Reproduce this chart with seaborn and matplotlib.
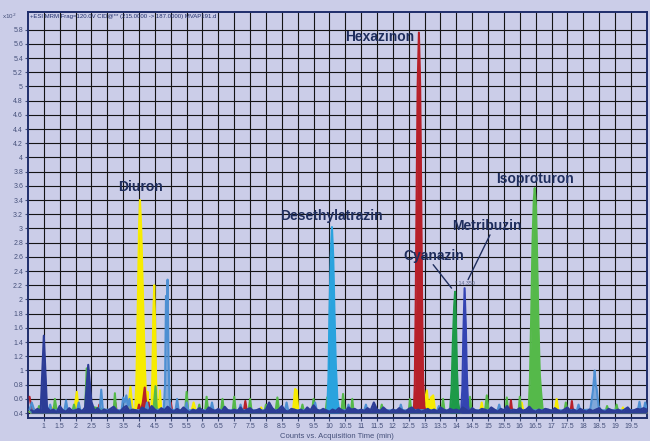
import numpy as np
import pandas as pd
import seaborn as sns
import matplotlib
matplotlib.use('Agg')
from matplotlib import pyplot as plt

# chromatogram traces: (time [min], counts [x10^2])
yellow = [(0.55, 0.42), (1.20, 0.42), (1.25, 0.48), (1.30, 0.42), (1.95, 0.42), (2.04, 0.70),
          (2.10, 0.42), (3.65, 0.42), (3.73, 0.77), (3.80, 0.45), (3.88, 0.45), (3.92, 0.90),
          (3.96, 1.90), (4.00, 3.00), (4.03, 3.40), (4.07, 3.00), (4.11, 2.30), (4.15, 1.60),
          (4.19, 1.00), (4.23, 0.55), (4.27, 0.70), (4.31, 0.45), (4.39, 0.45), (4.42, 0.90),
          (4.45, 1.80), (4.48, 2.20), (4.51, 1.60), (4.54, 0.85), (4.57, 0.45), (4.62, 0.45),
          (4.66, 0.72), (4.70, 0.44), (5.65, 0.42), (5.72, 0.55), (5.80, 0.42), (7.80, 0.42),
          (7.85, 0.48), (7.90, 0.42), (8.85, 0.42), (8.92, 0.74), (8.97, 0.72), (9.02, 0.42),
          (12.97, 0.42), (13.02, 0.60), (13.07, 0.72), (13.12, 0.50), (13.20, 0.62), (13.27, 0.65),
          (13.33, 0.44), (14.75, 0.42), (14.80, 0.55), (14.85, 0.42), (16.00, 0.42), (16.06, 0.55),
          (16.12, 0.42), (17.10, 0.42), (17.16, 0.60), (17.22, 0.42), (19.20, 0.42), (19.25, 0.48),
          (19.30, 0.42), (20.0, 0.42)]

red = [(0.55, 0.63), (0.62, 0.45), (1.30, 0.42), (1.35, 0.50), (1.40, 0.42), (2.70, 0.42),
       (2.75, 0.52), (2.80, 0.42), (3.20, 0.42), (3.25, 0.55), (3.30, 0.42), (3.95, 0.42),
       (4.00, 0.52), (4.05, 0.42), (4.12, 0.55), (4.18, 0.76), (4.23, 0.50), (4.30, 0.55),
       (4.35, 0.42), (4.95, 0.42), (5.00, 0.55), (5.05, 0.42), (7.30, 0.42), (7.35, 0.57),
       (7.40, 0.42), (8.10, 0.42), (8.15, 0.50), (8.20, 0.42), (12.66, 0.42), (12.69, 0.80),
       (12.72, 2.00), (12.75, 3.60), (12.78, 5.00), (12.82, 5.76), (12.86, 5.00), (12.89, 3.60),
       (12.92, 2.00), (12.95, 0.90), (12.99, 0.50), (13.03, 0.42), (15.68, 0.42), (15.72, 0.58),
       (15.76, 0.42), (17.60, 0.42), (17.64, 0.57), (17.68, 0.42), (20.0, 0.42)]

green = [(0.55, 0.42), (0.80, 0.42), (0.85, 0.50), (0.90, 0.42), (1.30, 0.42), (1.35, 0.60),
         (1.40, 0.45), (1.90, 0.42), (1.95, 0.52), (2.00, 0.42), (2.30, 0.42), (2.35, 1.03),
         (2.39, 0.50), (3.20, 0.42), (3.24, 0.68), (3.28, 0.42), (4.45, 0.42), (4.52, 0.78),
         (4.56, 0.45), (5.45, 0.42), (5.50, 0.70), (5.55, 0.42), (5.85, 0.42), (5.90, 0.52),
         (5.95, 0.42), (6.08, 0.42), (6.13, 0.63), (6.18, 0.42), (6.58, 0.42), (6.63, 0.60),
         (6.68, 0.42), (6.95, 0.42), (7.00, 0.63), (7.05, 0.42), (7.45, 0.42), (7.50, 0.60),
         (7.55, 0.42), (7.95, 0.42), (8.00, 0.52), (8.05, 0.42), (8.30, 0.42), (8.36, 0.62),
         (8.42, 0.42), (9.10, 0.42), (9.15, 0.52), (9.20, 0.42), (9.45, 0.42), (9.50, 0.60),
         (9.55, 0.42), (9.88, 0.42), (9.93, 0.62), (9.98, 0.42), (10.38, 0.42), (10.43, 0.67),
         (10.48, 0.45), (10.68, 0.42), (10.72, 0.60), (10.76, 0.42), (11.60, 0.42), (11.65, 0.52),
         (11.70, 0.42), (12.50, 0.42), (12.54, 0.60), (12.58, 0.42), (13.53, 0.42), (13.58, 0.60),
         (13.63, 0.42), (14.38, 0.42), (14.43, 0.63), (14.48, 0.42), (14.90, 0.42), (14.96, 0.65),
         (15.02, 0.42), (15.55, 0.42), (15.59, 0.62), (15.63, 0.42), (15.96, 0.42), (16.00, 0.63),
         (16.04, 0.42), (16.28, 0.45), (16.32, 0.90), (16.36, 1.80), (16.40, 2.80), (16.44, 3.40),
         (16.47, 3.57), (16.51, 3.30), (16.55, 2.50), (16.59, 1.60), (16.63, 0.95), (16.67, 0.70),
         (16.72, 0.45), (17.40, 0.42), (17.45, 0.55), (17.50, 0.42), (18.70, 0.42), (18.75, 0.50),
         (18.80, 0.42), (19.00, 0.42), (19.05, 0.52), (19.10, 0.42), (20.0, 0.42)]

lightblue = [(0.55, 0.45), (0.62, 0.55), (0.70, 0.44), (1.15, 0.44), (1.20, 0.52), (1.25, 0.44),
             (1.65, 0.44), (1.70, 0.58), (1.75, 0.44), (2.05, 0.44), (2.10, 0.55), (2.15, 0.44),
             (2.76, 0.44), (2.81, 0.73), (2.86, 0.45), (3.45, 0.44), (3.50, 0.62), (3.55, 0.55),
             (3.60, 0.65), (3.65, 0.50), (3.70, 0.60), (3.75, 0.44), (4.20, 0.44), (4.25, 0.55),
             (4.30, 0.44), (4.78, 0.45), (4.82, 0.80), (4.85, 2.05), (4.87, 1.40), (4.90, 2.28),
             (4.93, 1.20), (4.96, 0.60), (5.00, 0.45), (5.15, 0.44), (5.20, 0.60), (5.25, 0.44),
             (5.45, 0.44), (5.50, 0.55), (5.55, 0.44), (6.25, 0.44), (6.30, 0.55), (6.35, 0.44),
             (7.15, 0.44), (7.20, 0.52), (7.25, 0.44), (8.60, 0.44), (8.65, 0.55), (8.70, 0.44),
             (9.50, 0.44), (9.55, 0.55), (9.60, 0.44), (10.55, 0.44), (10.60, 0.52), (10.65, 0.44),
             (11.10, 0.44), (11.15, 0.52), (11.20, 0.44), (12.20, 0.44), (12.25, 0.52), (12.30, 0.44),
             (13.40, 0.44), (13.45, 0.50), (13.50, 0.44), (15.30, 0.44), (15.35, 0.52), (15.40, 0.44),
             (17.80, 0.44), (17.85, 0.52), (17.90, 0.44), (18.22, 0.45), (18.30, 0.70), (18.33, 0.85),
             (18.36, 1.00), (18.39, 0.80), (18.42, 0.75), (18.48, 0.50), (18.55, 0.44), (19.72, 0.44),
             (19.77, 0.56), (19.82, 0.44), (19.90, 0.44), (19.95, 0.55), (20.0, 0.45)]

desethylatrazin = [(9.93, 0.45), (9.97, 0.90), (10.00, 1.80), (10.04, 2.60), (10.08, 3.02),
                   (10.12, 2.60), (10.16, 1.80), (10.20, 1.10), (10.25, 0.60), (10.30, 0.45)]
cyanazin = [(13.80, 0.42), (13.85, 0.75), (13.89, 1.40), (13.93, 1.90), (13.96, 2.11),
            (13.99, 1.60), (14.02, 1.00), (14.06, 0.55), (14.10, 0.42)]
metribuzin = [(14.15, 0.42), (14.19, 0.75), (14.22, 1.50), (14.26, 2.16), (14.30, 1.60),
              (14.33, 0.95), (14.37, 0.50), (14.41, 0.42)]

# dark blue baseline trace, one reading every 0.1 min from 0.6 to 20.0
navy_t = np.round(np.arange(6, 201) * 0.1, 1)
navy_v = [0.44, 0.42, 0.46, 0.43,
          1.49, 0.48, 0.43, 0.45, 0.41, 0.50, 0.44, 0.42, 0.47, 0.43,
          0.44, 0.46, 0.42, 0.48, 1.08, 0.56, 0.43, 0.47, 0.42, 0.45,
          0.43, 0.46, 0.49, 0.44, 0.42, 0.47, 0.50, 0.43, 0.45, 0.44,
          0.42, 0.48, 0.45, 0.43, 0.50, 0.45, 0.42, 0.47, 0.44, 0.49,
          0.45, 0.42, 0.46, 0.43, 0.48, 0.44, 0.41, 0.45, 0.43, 0.47,
          0.44, 0.42, 0.48, 0.45, 0.43, 0.46, 0.42, 0.49, 0.44, 0.43,
          0.45, 0.43, 0.48, 0.42, 0.45, 0.47, 0.43, 0.44, 0.46, 0.42,
          0.45, 0.55, 0.47, 0.43, 0.45, 0.50, 0.44, 0.42, 0.46, 0.45,
          0.43, 0.45, 0.42, 0.48, 0.44, 0.51, 0.45, 0.43, 0.46, 0.44,
          0.42, 0.45, 0.43, 0.47, 0.44, 0.42, 0.48, 0.45, 0.46, 0.43,
          0.45, 0.43, 0.47, 0.44, 0.55, 0.45, 0.43, 0.48, 0.44, 0.42,
          0.45, 0.43, 0.47, 0.44, 0.42, 0.46, 0.48, 0.43, 0.45, 0.42,
          0.44, 0.46, 0.43, 0.45, 0.42, 0.48, 0.45, 0.43, 0.46, 0.44,
          0.45, 0.43, 0.48, 0.45, 0.42, 0.47, 0.44, 0.43, 0.46, 0.45,
          0.43, 0.48, 0.45, 0.42, 0.46, 0.44, 0.50, 0.43, 0.45, 0.44,
          0.47, 0.43, 0.45, 0.49, 0.44, 0.42, 0.45, 0.43, 0.46, 0.45,
          0.43, 0.47, 0.44, 0.42, 0.45, 0.48, 0.43, 0.45, 0.42, 0.46,
          0.44, 0.42, 0.45, 0.43, 0.45, 0.47, 0.43, 0.42, 0.46, 0.44,
          0.43, 0.45, 0.42, 0.45, 0.48, 0.43, 0.44, 0.46, 0.45, 0.47, 0.45]

labels = ['Hexazinon', 'Diuron', 'Desethylatrazin', 'Isoproturon', 'Metribuzin', 'Cyanazin']
label_x = [11.57, 4.05, 10.05, 16.47, 14.96, 13.30]
label_y = [5.70, 3.59, 3.18, 3.70, 3.04, 2.61]

bg = '#cbcde8'
navy = '#1f2d6b'
sns.set_theme(style='white', rc={'figure.facecolor': bg, 'axes.facecolor': bg})
plt.rcParams['font.family'] = ['Liberation Sans', 'DejaVu Sans']

fig = plt.figure(figsize=(6.5, 4.41), dpi=100)
ax = fig.add_axes([0.043, 0.052, 0.952, 0.921])

traces = [
    (yellow, '#f7ec00', 1.0),
    (red, '#b7202a', 1.0),
    (green, '#55b94a', 1.0),
    (lightblue, '#4d8fd2', 0.6),
    (desethylatrazin, '#2aa3de', 1.0),
    (cyanazin, '#1d9a48', 1.0),
    (metribuzin, '#3344b2', 1.0),
]
for pts, col, a in traces:
    df = pd.DataFrame(pts, columns=['t', 'v'])
    ax.fill_between(df['t'], 0.40, df['v'], color=col, alpha=a, lw=0, zorder=3)
    sns.lineplot(data=df, x='t', y='v', sort=False, estimator=None, color=col,
                 linewidth=1.5, ax=ax, zorder=3)

navy_df = pd.DataFrame({'t': navy_t, 'v': navy_v})
ax.fill_between(navy_df['t'], 0.40, navy_df['v'], color='#2c3c96', lw=0, zorder=4)
sns.lineplot(data=navy_df, x='t', y='v', sort=False, estimator=None, color='#2c3c96',
             linewidth=1.5, ax=ax, zorder=4)

ax.set_xlim(0.5, 20.0)
ax.set_ylim(0.33, 6.05)
xt = np.arange(1, 20, 0.5)
yt = np.round(np.arange(0.4, 5.81, 0.2), 1)
ax.set_xticks(xt)
ax.set_xticklabels(['%g' % v for v in xt])
ax.set_yticks(yt)
ax.set_yticklabels(['%g' % v for v in yt])
ax.grid(True, which='major', color='#141414', linewidth=0.8)
ax.set_axisbelow(True)
ax.tick_params(axis='both', which='major', labelsize=5, colors='#45507a', length=2,
               width=0.8, pad=1.5, direction='out', left=True, bottom=True)
for s in ax.spines.values():
    s.set_color(navy)
    s.set_linewidth(1.4)
ax.set_xlabel('Counts vs. Acquisition Time (min)', fontsize=5.5, color='#45507a', labelpad=2)
ax.set_ylabel('')

ax.text(0.55, 5.98, '+ESI MRM Frag=120.0V CID@** (215.0000 -> 187.0000) MVAP191.d',
        fontsize=4.3, color=navy, va='center', ha='left', zorder=6)
fig.text(0.003, 0.962, r'x10$^2$', fontsize=4.5, color='#45507a', va='center')

for name, x, y in zip(labels, label_x, label_y):
    ax.text(x, y, name, fontsize=10, fontweight='bold', color='#1f2e5e',
            ha='center', va='center', zorder=6)
ax.plot([13.27, 13.85], [2.49, 2.16], color='#1f2e5e', lw=1.0, zorder=6)
ax.plot([15.06, 14.37], [2.91, 2.28], color='#1f2e5e', lw=1.0, zorder=6)
ax.text(13.96, 2.22, '* 14.350', fontsize=3.8, color='#5a6488', va='center', ha='left', zorder=6)

fig.savefig('out.png', dpi=100, facecolor=bg)
